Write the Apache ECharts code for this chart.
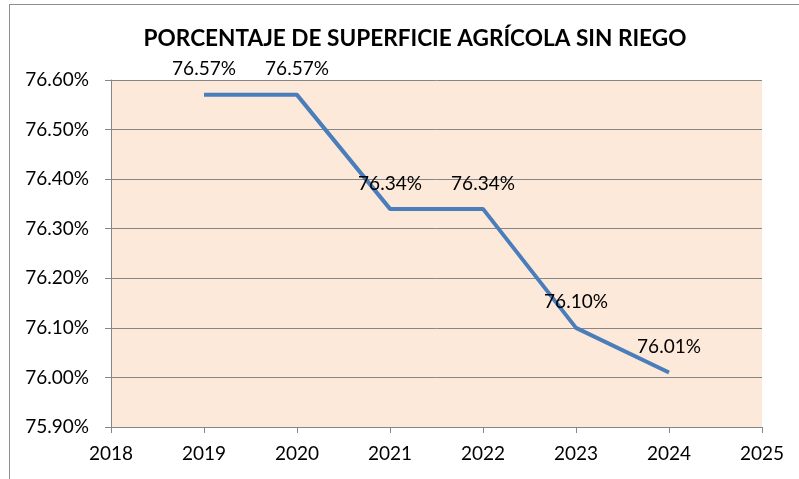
<!DOCTYPE html>
<html>
<head>
<meta charset="utf-8">
<script src="https://cdn.jsdelivr.net/npm/echarts@6/dist/echarts.min.js"></script>
<style>
	html, body { margin: 0; padding: 0; background: #fff; }
	#chart { width: 799px; height: 479px; position: relative; }
	#frame { position: absolute; left: 9px; top: 4px; right: 0; bottom: 0; border-top: 1px solid #8e8e8e; border-left: 1px solid #8e8e8e; pointer-events: none; }
</style>
</head>
<body>
<div id="chart"></div>
<div id="frame"></div>
<script>
"use strict";

var titleText = 'PORCENTAJE DE SUPERFICIE AGRÍCOLA SIN RIEGO';
var years = [2019, 2020, 2021, 2022, 2023, 2024];
var values = [76.57, 76.57, 76.34, 76.34, 76.10, 76.01];

var lineColor = '#4a7ebb';
var gridColor = '#868686';
var plotBg = '#fde9d9';
var fontName = 'Lato';

var myChart = echarts.init(document.getElementById('chart'), null, { renderer: 'canvas' });

function buildData() {
	var result = [];
	for (var i = 0; i < years.length; i++) {
		result.push([years[i], values[i]]);
	}
	return result;
}

var option = {
	animation: false,
	backgroundColor: '#fff',
	title: {
		text: titleText,
		left: 410,
		textAlign: 'center',
		top: 22,
		textStyle: {
			fontFamily: fontName,
			fontWeight: 'bold',
			fontSize: 22.6,
			color: '#000'
		}
	},
	grid: {
		left: 111,
		right: 37,
		top: 80,
		bottom: 52,
		show: true,
		backgroundColor: plotBg,
		borderWidth: 0
	},
	xAxis: {
		type: 'value',
		min: 2018,
		max: 2025,
		interval: 1,
		axisLine: { show: true, lineStyle: { color: gridColor, width: 1 } },
		axisTick: { show: true, length: 6, lineStyle: { color: gridColor } },
		splitLine: { show: false },
		axisLabel: {
			margin: 17,
			color: '#000',
			fontFamily: fontName,
			fontSize: 19,
			formatter: function(v) { return String(v); }
		}
	},
	yAxis: {
		type: 'value',
		min: 75.9,
		max: 76.6,
		interval: 0.1,
		axisLine: { show: true, lineStyle: { color: gridColor, width: 1 } },
		axisTick: { show: true, length: 6, lineStyle: { color: gridColor } },
		splitLine: { show: true, lineStyle: { color: gridColor, width: 1 } },
		axisLabel: {
			margin: 22,
			color: '#000',
			fontFamily: fontName,
			fontSize: 19,
			formatter: function(v) { return v.toFixed(2) + '%'; }
		}
	},
	series: [{
		type: 'line',
		data: buildData(),
		showSymbol: true,
		symbol: 'circle',
		symbolSize: 0,
		itemStyle: { color: lineColor },
		lineStyle: { color: lineColor, width: 4 },
		label: {
			show: true,
			position: 'top',
			distance: 16,
			color: '#000',
			fontFamily: fontName,
			fontSize: 19,
			formatter: function(p) { return p.value[1].toFixed(2) + '%'; }
		}
	}]
};

myChart.setOption(option);
</script>
</body>
</html>
